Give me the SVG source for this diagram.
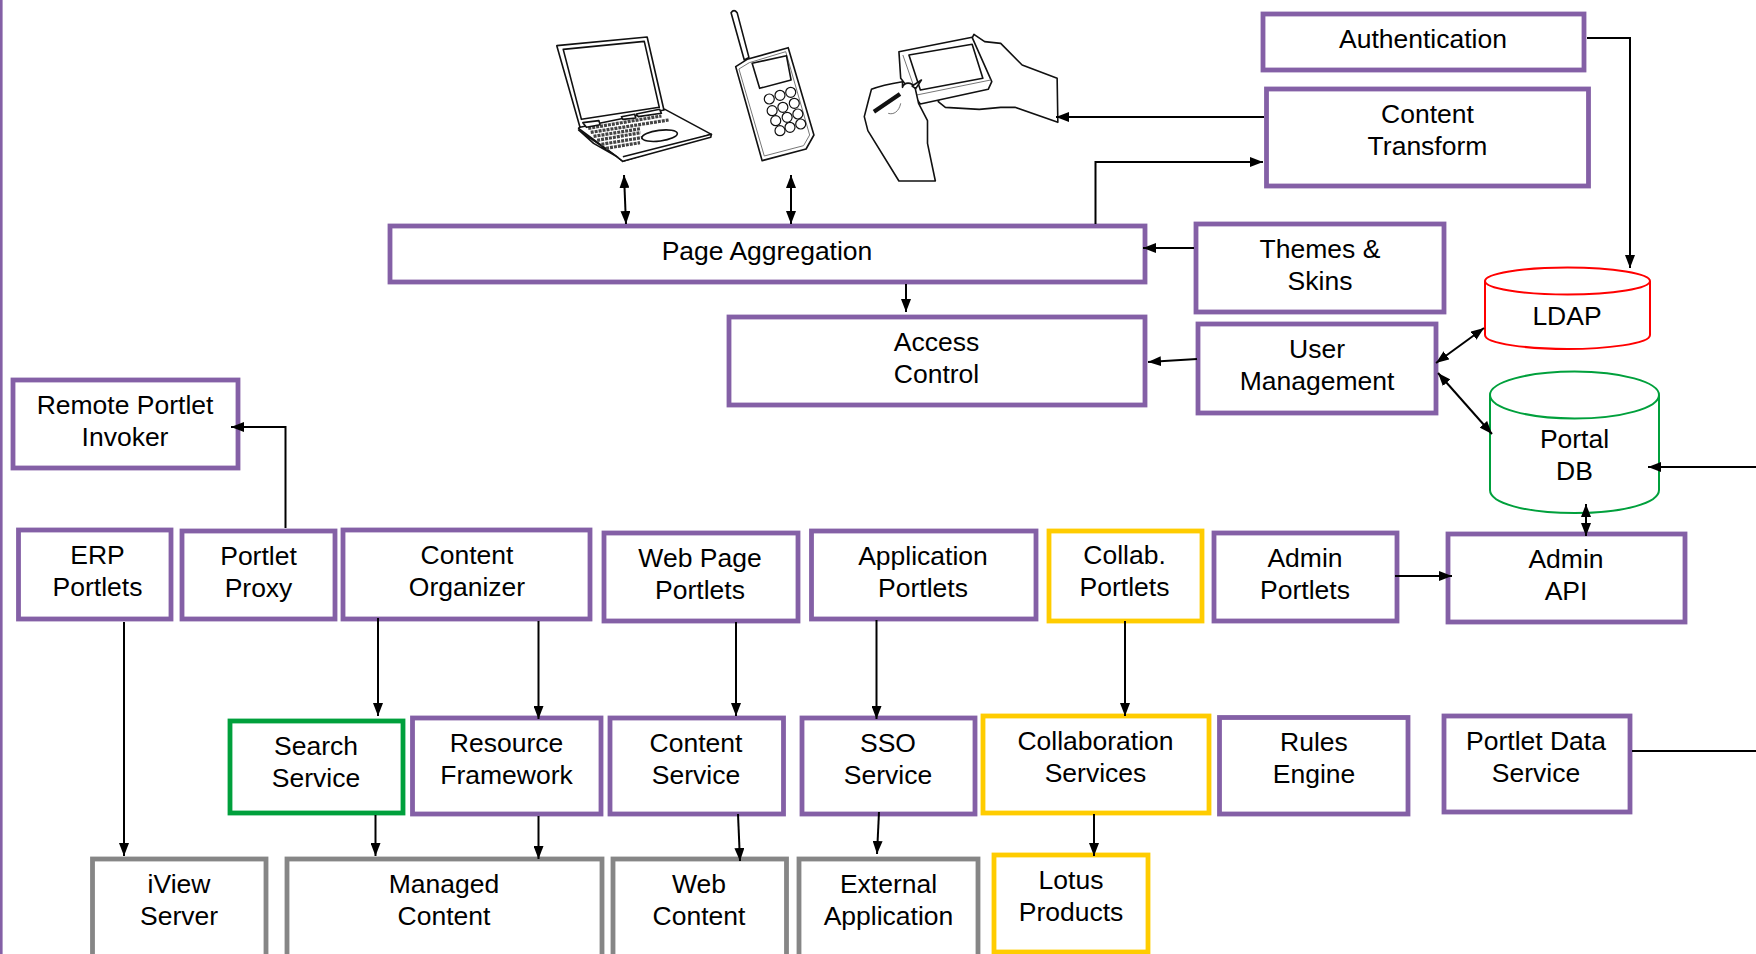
<svg xmlns="http://www.w3.org/2000/svg" width="1756" height="954" viewBox="0 0 1756 954">
<style>
text{font-family:"Liberation Sans",Arial,sans-serif;font-size:26.5px;fill:#000;text-anchor:middle}
.b{fill:#fff;stroke-width:4.8}
.p{stroke:#8460a6}.y{stroke:#ffcc00}.g{stroke:#868686}.gn{stroke:#00a03c}
.c{fill:none;stroke:#000;stroke-width:2}
.a{marker-end:url(#ah)}
.d{marker-start:url(#ah);marker-end:url(#ah)}
.i path,.i ellipse{vector-effect:non-scaling-stroke;stroke:#111;stroke-width:1.6;fill:#fff;stroke-linejoin:round}
.i .k{stroke:#444;stroke-width:3.2;stroke-dasharray:3 1;fill:none}
.i .t{stroke-width:4.2;fill:none}
.i .f{stroke-width:1;fill:none;stroke:#777}
.i ellipse.n{stroke-width:1.2}
</style>
<defs>
<marker id="ah" markerUnits="userSpaceOnUse" viewBox="0 0 13 10" refX="13" refY="5" markerWidth="13" markerHeight="10" orient="auto-start-reverse"><path d="M0 0L13 5L0 10Z" fill="#000"/></marker>
</defs>
<rect width="1756" height="954" fill="#fff"/>
<rect x="0" y="0" width="2.6" height="954" fill="#8460a6"/>

<g id="laptop" class="i" transform="translate(540,0) scale(.35714,.33333)">
<path d="M108,385 L125,366 L350,328 L480,403 L232,484 L215,470 Z"/>
<path d="M232,470 L480,403 L478,412 L232,484 L215,470 L108,390 L150,430 L215,470"/>
<path d="M47,137 L300,111 L347,330 L112,382 Z"/>
<path d="M65,148 L292,124 L334,322 L116,358 Z"/>
<path class="k" d="M135,385 L340,348 M142,397 L360,360 M150,409 L282,386 M160,421 L282,398 M172,433 L290,412 M185,445 L280,428"/>
<path d="M120,368 L165,362 L168,374 L130,382 Z M228,350 L265,343 L268,354 L232,358 Z M270,342 L335,328 L340,340 L275,350 Z"/>
<ellipse cx="335" cy="407" rx="50" ry="16" transform="rotate(-8 335 407)"/>
</g>

<g id="phone" class="i" transform="translate(540,0) scale(.35714,.33333)">
<path d="M535,38 Q543,26 552,38 L585,172 L572,180 Z"/>
<path d="M548,200 L580,178 L695,143 L767,405 L745,447 L622,482 Z"/>
<path class="f" d="M557,207 L586,188 L688,155 L755,405 L738,437 L628,468 Z"/>
<path d="M594,190 L690,167 L703,240 L615,265 Z"/>
<ellipse class="n" cx="642" cy="297" rx="14" ry="15"/><ellipse class="n" cx="672" cy="286" rx="14" ry="15"/><ellipse class="n" cx="702" cy="277" rx="14" ry="15"/>
<ellipse class="n" cx="650" cy="332" rx="14" ry="15"/><ellipse class="n" cx="680" cy="322" rx="14" ry="15"/><ellipse class="n" cx="712" cy="310" rx="14" ry="15"/>
<ellipse class="n" cx="660" cy="362" rx="14" ry="15"/><ellipse class="n" cx="692" cy="352" rx="14" ry="15"/><ellipse class="n" cx="722" cy="342" rx="14" ry="15"/>
<ellipse class="n" cx="672" cy="392" rx="14" ry="15"/><ellipse class="n" cx="700" cy="382" rx="14" ry="15"/><ellipse class="n" cx="730" cy="372" rx="14" ry="15"/>
</g>

<g id="hand-device" class="i" transform="translate(540,0) scale(.35714,.33333)">
<path d="M1205,125 L1215,103 L1245,125 L1290,130 L1350,195 L1448,235 L1450,367 L1330,322 L1290,322 L1230,328 L1135,322 L1115,305 L1120,290 Z"/>
<path d="M1005,155 L1210,112 L1265,245 L1255,268 L1065,312 L1010,235 Z"/>
<path d="M1033,165 L1210,133 L1240,235 L1065,270 Z"/>
<path class="f" d="M1016,165 L1055,285 L1262,240"/>
<path d="M1015,245 C985,250 950,258 928,268 L920,300 L908,350 L918,392 L1005,543 L1107,543 L1085,430 L1085,362 L1060,310 L1050,262 C1040,245 1020,245 1015,262 Z"/>
<path class="t" d="M935,335 L1008,282"/>
<path d="M1042,258 L1068,240 L1052,266 Z" fill="#111"/>
<path class="f" d="M1010,310 C1005,335 990,345 975,340"/>
</g>

<g id="authentication"><rect class="b p" x="1263" y="14" width="321" height="56"/><text x="1423" y="48">Authentication</text></g>
<g id="content-transform"><rect class="b p" x="1266.500" y="89" width="322" height="97"/><text x="1427.500" y="123">Content<tspan x="1427.500" y="155">Transform</tspan></text></g>
<g id="page-aggregation"><rect class="b p" x="390" y="226" width="755" height="56"/><text x="767" y="260">Page Aggregation</text></g>
<g id="themes-skins"><rect class="b p" x="1196" y="224" width="248" height="88"/><text x="1320" y="258">Themes &amp;<tspan x="1320" y="290">Skins</tspan></text></g>
<g id="access-control"><rect class="b p" x="729" y="317" width="416" height="88"/><text x="936.500" y="351">Access<tspan x="936.500" y="383">Control</tspan></text></g>
<g id="user-management"><rect class="b p" x="1198" y="324" width="238" height="89"/><text x="1317" y="358">User<tspan x="1317" y="390">Management</tspan></text></g>
<g id="ldap"><path d="M1485,281 L1485,335 C1485,344 1530,349 1567.500,349 C1605,349 1650,344 1650,335 L1650,281" fill="#fff" stroke="#ff0000" stroke-width="2"/><ellipse cx="1567.500" cy="281" rx="82.500" ry="13.500" fill="#fff" stroke="#ff0000" stroke-width="2"/><text x="1567" y="325">LDAP</text></g>
<g id="portal-db"><path d="M1490,395 L1490,490 C1490,503 1525,513 1574.500,513 C1624,513 1659,503 1659,490 L1659,395" fill="#fff" stroke="#00a03c" stroke-width="2"/><ellipse cx="1574.500" cy="395" rx="84.500" ry="23.500" fill="#fff" stroke="#00a03c" stroke-width="2"/><text x="1574.500" y="448">Portal<tspan x="1574.500" y="480">DB</tspan></text></g>
<g id="remote-portlet-invoker"><rect class="b p" x="13" y="380" width="225" height="88"/><text x="125" y="414">Remote Portlet<tspan x="125" y="446">Invoker</tspan></text></g>
<g id="erp-portlets"><rect class="b p" x="18.500" y="530" width="152.500" height="89"/><text x="97.500" y="564">ERP<tspan x="97.500" y="596">Portlets</tspan></text></g>
<g id="portlet-proxy"><rect class="b p" x="182" y="531" width="153" height="88"/><text x="258.500" y="565">Portlet<tspan x="258.500" y="597">Proxy</tspan></text></g>
<g id="content-organizer"><rect class="b p" x="343" y="530" width="247" height="89"/><text x="467" y="564">Content<tspan x="467" y="596">Organizer</tspan></text></g>
<g id="web-page-portlets"><rect class="b p" x="604" y="533" width="194" height="88"/><text x="700" y="567">Web Page<tspan x="700" y="599">Portlets</tspan></text></g>
<g id="application-portlets"><rect class="b p" x="811.500" y="531" width="224.500" height="88"/><text x="923" y="565">Application<tspan x="923" y="597">Portlets</tspan></text></g>
<g id="collab-portlets"><rect class="b y" x="1049" y="531" width="153" height="90"/><text x="1124.500" y="564">Collab.<tspan x="1124.500" y="596">Portlets</tspan></text></g>
<g id="admin-portlets"><rect class="b p" x="1214" y="533" width="183" height="88"/><text x="1305" y="567">Admin<tspan x="1305" y="599">Portlets</tspan></text></g>
<g id="admin-api"><rect class="b p" x="1448" y="534" width="237" height="88"/><text x="1566" y="568">Admin<tspan x="1566" y="600">API</tspan></text></g>
<g id="search-service"><rect class="b gn" x="230" y="721" width="173" height="92"/><text x="316" y="755">Search<tspan x="316" y="787">Service</tspan></text></g>
<g id="resource-framework"><rect class="b p" x="412.500" y="718" width="188.500" height="96"/><text x="506.500" y="752">Resource<tspan x="506.500" y="784">Framework</tspan></text></g>
<g id="content-service"><rect class="b p" x="610" y="718" width="173.500" height="96"/><text x="696" y="752">Content<tspan x="696" y="784">Service</tspan></text></g>
<g id="sso-service"><rect class="b p" x="802" y="718" width="173" height="96"/><text x="888" y="752">SSO<tspan x="888" y="784">Service</tspan></text></g>
<g id="collaboration-services"><rect class="b y" x="983" y="716" width="226" height="97"/><text x="1095.500" y="750">Collaboration<tspan x="1095.500" y="782">Services</tspan></text></g>
<g id="rules-engine"><rect class="b p" x="1219.500" y="717.500" width="188.500" height="96.500"/><text x="1314" y="751">Rules<tspan x="1314" y="783">Engine</tspan></text></g>
<g id="portlet-data-service"><rect class="b p" x="1444" y="716" width="186" height="96"/><text x="1536" y="750">Portlet Data<tspan x="1536" y="782">Service</tspan></text></g>
<g id="iview-server"><rect class="b g" x="92.500" y="859" width="173.500" height="120"/><text x="179" y="893">iView<tspan x="179" y="925">Server</tspan></text></g>
<g id="managed-content"><rect class="b g" x="287" y="859" width="315" height="120"/><text x="444" y="893">Managed<tspan x="444" y="925">Content</tspan></text></g>
<g id="web-content"><rect class="b g" x="613" y="859" width="173.500" height="120"/><text x="699" y="893">Web<tspan x="699" y="925">Content</tspan></text></g>
<g id="external-application"><rect class="b g" x="799" y="859" width="179" height="120"/><text x="888.500" y="893">External<tspan x="888.500" y="925">Application</tspan></text></g>
<g id="lotus-products"><rect class="b y" x="994" y="855" width="154" height="97"/><text x="1071" y="889">Lotus<tspan x="1071" y="921">Products</tspan></text></g>

<g id="connectors">
<path class="c d" d="M624,175L626,224"/>
<path class="c d" d="M791,175L791,224"/>
<path class="c a" d="M1264,117H1056"/>
<path class="c a" d="M1095.500,224V162H1263"/>
<path class="c a" d="M1587,38H1630V268"/>
<path class="c a" d="M1194,248H1143"/>
<path class="c a" d="M906,284V312"/>
<path class="c a" d="M1197,359L1148,362"/>
<path class="c d" d="M1436,363L1484,328"/>
<path class="c d" d="M1438,373L1492,434"/>
<path class="c a" d="M1756,467H1648"/>
<path class="c d" d="M1586,504V536"/>
<path class="c a" d="M1395,576H1452"/>
<path class="c a" d="M285.500,528V427H231"/>
<path class="c a" d="M124,622V856"/>
<path class="c a" d="M378,618V716"/>
<path class="c a" d="M538.500,621V719"/>
<path class="c a" d="M736,622V716"/>
<path class="c a" d="M876.500,620V719"/>
<path class="c a" d="M1125,621V716"/>
<path class="c a" d="M375.500,815V856"/>
<path class="c a" d="M538.500,816V859"/>
<path class="c a" d="M738,814L740,861"/>
<path class="c a" d="M879,812L877,854"/>
<path class="c a" d="M1094,814V856"/>
<path class="c" d="M1632,751H1756"/>
</g>
</svg>
